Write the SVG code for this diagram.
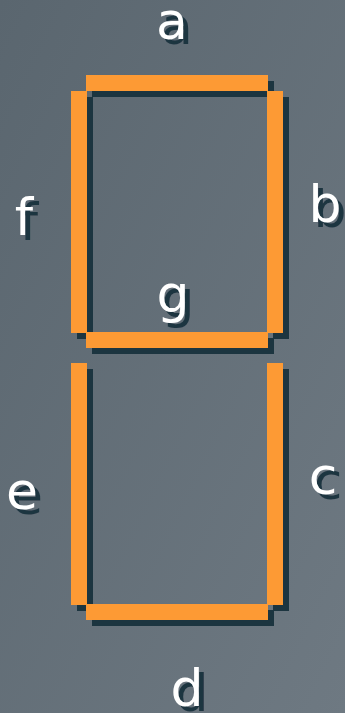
<svg xmlns="http://www.w3.org/2000/svg" width="345" height="713" viewBox="0 0 345 713">
<defs>
<linearGradient id="bg" x1="0" y1="0" x2="1" y2="1">
<stop offset="0" stop-color="#5a666f"/>
<stop offset="1" stop-color="#6e7982"/>
</linearGradient>
<filter id="soft" x="-10%" y="-10%" width="120%" height="120%"><feGaussianBlur stdDeviation="0.6"/></filter>
</defs>
<style>
.seg{fill:#fd9a34}
.sh{fill:#1f3441}
.lbl{font-family:"DejaVu Sans",Verdana,sans-serif;font-size:52px;fill:#ffffff;text-anchor:middle}
.lsh{font-family:"DejaVu Sans",Verdana,sans-serif;font-size:52px;fill:#1f3441;text-anchor:middle}
</style>
<rect width="345" height="713" fill="url(#bg)"/>
<g id="shadows" transform="translate(6,6)" filter="url(#soft)">
<rect class="sh" x="86" y="75" width="182" height="16"/>
<rect class="sh" x="267" y="91" width="16" height="242"/>
<rect class="sh" x="267" y="363" width="16" height="242"/>
<rect class="sh" x="86" y="604" width="182" height="16"/>
<rect class="sh" x="71" y="363" width="16" height="242"/>
<rect class="sh" x="71" y="91" width="16" height="242"/>
<rect class="sh" x="86" y="332" width="182" height="16"/>
</g>
<g id="seg-a"><rect class="seg" x="86" y="75" width="182" height="16"/></g>
<g id="seg-b"><rect class="seg" x="267" y="91" width="16" height="242"/></g>
<g id="seg-c"><rect class="seg" x="267" y="363" width="16" height="242"/></g>
<g id="seg-d"><rect class="seg" x="86" y="604" width="182" height="16"/></g>
<g id="seg-e"><rect class="seg" x="71" y="363" width="16" height="242"/></g>
<g id="seg-f"><rect class="seg" x="71" y="91" width="16" height="242"/></g>
<g id="seg-g"><rect class="seg" x="86" y="332" width="182" height="16"/></g>
<g id="label-shadows" transform="translate(5,5)" filter="url(#soft)">
<text class="lsh" x="172" y="38.5">a</text>
<text class="lsh" x="325" y="221.5">b</text>
<text class="lsh" x="323" y="494">c</text>
<text class="lsh" x="187" y="706">d</text>
<text class="lsh" x="22" y="508.5">e</text>
<text class="lsh" x="24" y="235">f</text>
<text class="lsh" x="173" y="311.5">g</text>
</g>
<g id="labels">
<text class="lbl" x="172" y="38.5">a</text>
<text class="lbl" x="325" y="221.5">b</text>
<text class="lbl" x="323" y="494">c</text>
<text class="lbl" x="187" y="706">d</text>
<text class="lbl" x="22" y="508.5">e</text>
<text class="lbl" x="24" y="235">f</text>
<text class="lbl" x="173" y="311.5">g</text>
</g>
</svg>
